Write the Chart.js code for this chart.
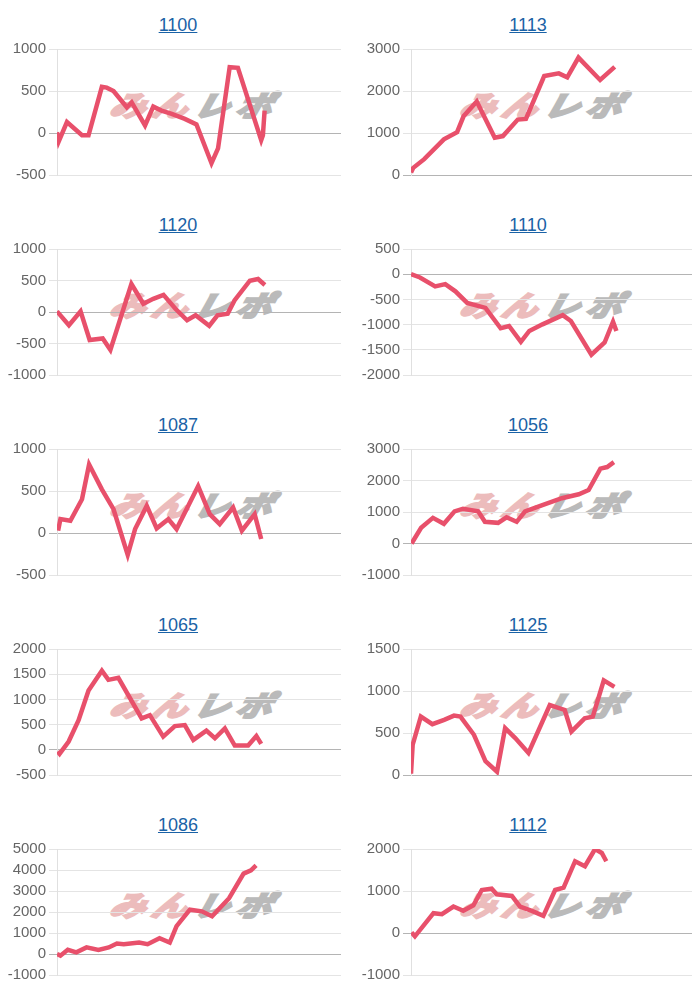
<!DOCTYPE html>
<html>
<head>
<meta charset="utf-8">
<script src="https://cdn.jsdelivr.net/npm/chart.js@4/dist/chart.umd.min.js"></script>
<style>
  html, body { margin: 0; padding: 0; background: #fff; }
  #grid { position: relative; width: 700px; height: 1000px; overflow: hidden; }
  .cell { position: absolute; width: 350px; height: 200px; }
  .cell a {
    position: absolute; top: 15px; left: 0; width: 356px; text-align: center;
    font: 18px 'Liberation Sans', Arial, sans-serif; color: #1a62a6; text-decoration: underline;
  }
  .wm {
    position: absolute; left: 116px; top: 84px; white-space: nowrap;
    font: italic 700 33px 'Noto Sans CJK JP', sans-serif; letter-spacing: 6px;
    transform: skewX(-14deg) scale(1.08, 0.85); transform-origin: left top;
  }
  .wm .p { color: #ecbcbc; -webkit-text-stroke: 3px #ecbcbc; }
  .wm .g { color: #bababa; -webkit-text-stroke: 3px #bababa; }
  .cell canvas { position: absolute; top: 37px; left: 0; }
</style>
</head>
<body>
<div id="grid"></div>
<script>
const titles = ['1100', '1113', '1120', '1110', '1087', '1056', '1065', '1125', '1086', '1112'];
const yMin  = [-500, 0, -1000, -2000, -500, -1000, -500, 0, -1000, -1000];
const yMax  = [1000, 3000, 1000, 500, 1000, 3000, 2000, 1500, 5000, 2000];
const yStep = [500, 1000, 500, 500, 500, 1000, 500, 500, 1000, 1000];

// x = position along the day (0-100), y = difference
const x1100 = [0, 0.6, 3.5, 8.8, 11.1, 15.8, 17.5, 19.9, 24.6, 26.3, 31, 33.9, 36.8, 40.4, 45, 49.1, 54.4, 56.7, 60.8, 63.7, 71.9, 72.5, 73.1];
const y1100 = [10, -100, 130, -27, -27, 549, 540, 500, 306, 365, 90, 314, 267, 227, 168, 102, -360, -184, 784, 776, -86, -27, 267];

const x1113 = [0, 0.8, 4.7, 11.7, 16.4, 18.7, 23.4, 29.8, 32.7, 38, 40.9, 47.4, 52.6, 55.6, 59.6, 67.3, 72.5];
const y1113 = [60, 170, 377, 848, 1021, 1398, 1752, 888, 927, 1320, 1335, 2357, 2419, 2325, 2796, 2262, 2576];

const x1120 = [0, 4.2, 8.3, 11.5, 16.1, 18.8, 26.2, 30.4, 33.9, 37.5, 41.7, 45.8, 48.8, 53.6, 56.5, 60.1, 62.5, 67.9, 70.8, 73.2];
const y1120 = [10, -209, 10, -445, -419, -602, 445, 131, 209, 272, 52, -131, -52, -220, -52, -26, 183, 497, 524, 429];

const x1110 = [0, 3.2, 8.6, 12.2, 15.8, 20, 26.5, 31.9, 34.9, 39.1, 42.1, 46.8, 54, 56.9, 64.2, 68.9, 71.9, 73.1];
const y1110 = [0, -65, -242, -196, -340, -569, -668, -1073, -1028, -1342, -1126, -995, -812, -929, -1597, -1355, -943, -1126];

const x1087 = [0.4, 1.2, 4.7, 8.8, 11.3, 15.8, 19.9, 24.9, 27.5, 31.6, 35.1, 39.2, 42.1, 49.7, 53.8, 57.3, 62, 65.1, 69.6, 71.9];
const y1087 = [28, 165, 146, 402, 815, 520, 283, -260, 47, 323, 55, 165, 47, 559, 224, 106, 303, 28, 224, -71];

const x1056 = [0.2, 3.6, 7.8, 11.7, 15.5, 18.5, 23.9, 26.3, 31, 34, 37.6, 40.6, 46.5, 53.7, 59.7, 63.2, 67.4, 69.8, 72.2];
const y1056 = [0, 500, 813, 625, 1021, 1104, 1021, 688, 656, 833, 688, 1021, 1208, 1438, 1563, 1698, 2375, 2427, 2583];

const x1065 = [0.2, 0.9, 4.1, 7.6, 11.1, 15.8, 18.1, 21.6, 29.8, 32.7, 37.4, 41.5, 45, 48, 52.6, 55.6, 59.1, 62.6, 67.3, 70.2, 71.9];
const y1065 = [-33, -79, 164, 589, 1178, 1571, 1388, 1427, 622, 687, 262, 471, 491, 196, 380, 229, 425, 85, 85, 275, 118];

const x1125 = [0, 0.6, 3.5, 7.6, 11.8, 15.3, 17.6, 22.4, 26.5, 30.6, 33.5, 37.1, 41.8, 49.4, 54.7, 57.1, 61.8, 64.7, 68.6, 72.4];
const y1125 = [16, 361, 695, 605, 656, 707, 695, 479, 165, 39, 558, 440, 263, 833, 774, 518, 675, 695, 1127, 1049];

const x1086 = [0, 1.2, 3.8, 6.8, 10.4, 14.6, 18.2, 21.1, 23.5, 28.9, 31.9, 36.1, 39.7, 42.1, 46.8, 51, 54.6, 60.6, 65.7, 68.3, 70.1];
const y1086 = [0, -78, 203, 78, 313, 188, 313, 500, 469, 547, 469, 750, 547, 1328, 2110, 2032, 1797, 2657, 3829, 3985, 4220];

const x1112 = [0.2, 1.4, 8, 11, 15.1, 18.6, 22.2, 25.2, 28.7, 30.5, 35.9, 38.8, 43, 47.1, 51.3, 54.3, 58.4, 61.9, 65.5, 67.9, 69.5];
const y1112 = [16, -79, 472, 449, 630, 528, 661, 1024, 1055, 921, 882, 630, 528, 409, 1024, 1079, 1709, 1591, 2000, 1906, 1709];

const seriesX = [x1100, x1113, x1120, x1110, x1087, x1056, x1065, x1125, x1086, x1112];
const seriesY = [y1100, y1113, y1120, y1110, y1087, y1056, y1065, y1125, y1086, y1112];

Chart.defaults.font.family = "'Liberation Sans', Arial, sans-serif";
Chart.defaults.font.size = 15;
Chart.defaults.color = '#666';

const grid = document.getElementById('grid');

titles.forEach((title, i) => {
  const col = i % 2, row = Math.floor(i / 2);
  const cell = document.createElement('div');
  cell.className = 'cell';
  cell.style.left = (col * 350) + 'px';
  cell.style.top = (row * 200) + 'px';
  cell.innerHTML = '<a href="#">' + title + '</a>' +
    '<div class="wm"><span class="p">みん</span><span class="g">レポ</span></div>';
  const canvas = document.createElement('canvas');
  const w = col === 0 ? 341 : 342;
  canvas.width = w; canvas.height = 150;
  canvas.style.width = w + 'px'; canvas.style.height = '150px';
  cell.appendChild(canvas);
  grid.appendChild(cell);

  const axisWidth = col === 0 ? 57 : 61;
  const pts = seriesX[i].map((x, k) => ({ x: x, y: seriesY[i][k] }));

  new Chart(canvas.getContext('2d'), {
    type: 'line',
    data: {
      datasets: [{
        data: pts,
        borderColor: '#e8506b',
        borderWidth: 4.5,
        pointRadius: 0,
        tension: 0,
        fill: false
      }]
    },
    options: {
      responsive: false,
      animation: false,
      layout: { padding: 0 },
      plugins: { legend: { display: false }, tooltip: { enabled: false } },
      scales: {
        x: { type: 'linear', min: 0, max: 100, display: false },
        y: {
          min: yMin[i], max: yMax[i],
          ticks: { stepSize: yStep[i], color: '#666', callback: v => String(v) },
          grid: {
            color: c => (c.tick && c.tick.value === 0) ? '#b4b4b4' : '#e4e4e4',
            tickLength: 8
          },
          border: { color: '#e0e0e0' },
          afterFit: scale => { scale.width = axisWidth; }
        }
      }
    }
  });
});
</script>
</body>
</html>
